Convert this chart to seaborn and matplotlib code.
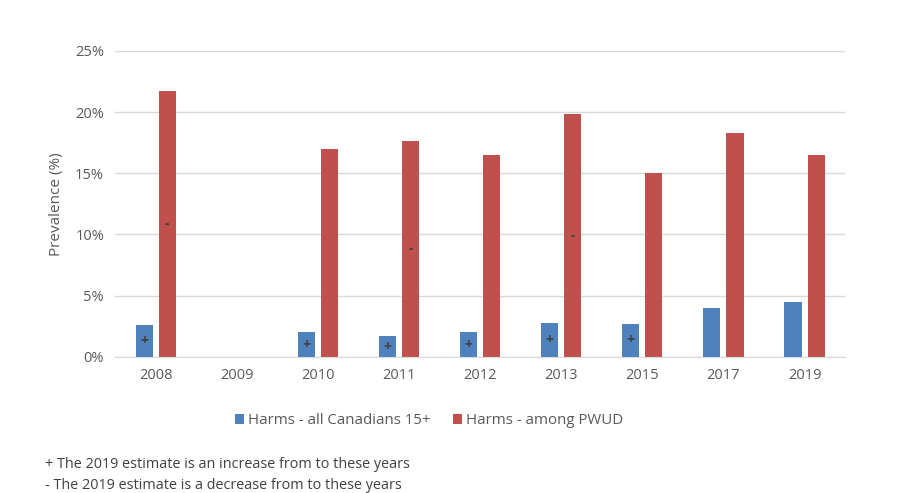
import matplotlib
matplotlib.use("Agg")
import matplotlib.pyplot as plt
import seaborn as sns
import pandas as pd
import numpy as np

# 데이터
years = ["2008", "2009", "2010", "2011", "2012", "2013", "2015", "2017", "2019"]
harms_all = [2.6, np.nan, 2.0, 1.7, 2.0, 2.8, 2.7, 4.0, 4.5]
harms_pwud = [21.7, np.nan, 17.0, 17.6, 16.5, 19.8, 15.0, 18.3, 16.5]
series_names = ["Harms - all Canadians 15+", "Harms - among PWUD"]
plus_years = ["2008", "2010", "2011", "2012", "2013", "2015"]
minus_years = ["2008", "2011", "2013"]

df = pd.DataFrame({
    "Year": years * 2,
    "Value": harms_all + harms_pwud,
    "Series": [series_names[0]] * len(years) + [series_names[1]] * len(years),
})

sns.set_style("white")
plt.rcParams["font.family"] = ["Open Sans", "DejaVu Sans"]

fig = plt.figure(figsize=(9, 4.93), dpi=100)
ax = fig.add_axes([0.128, 0.276, 0.811, 0.621])

sns.barplot(
    data=df, x="Year", y="Value", hue="Series", order=years,
    hue_order=series_names, palette=["#4F81BD", "#C0504D"], saturation=1,
    width=0.57, gap=0.26, errorbar=None, ax=ax,
    edgecolor=None, linewidth=0,
)

ax.set_ylim(0, 25)
ax.set_yticks([0, 5, 10, 15, 20, 25])
ax.set_yticklabels([f"{v}%" for v in [0, 5, 10, 15, 20, 25]])
ax.yaxis.grid(True, color="#D9D9D9", linewidth=1)
ax.set_axisbelow(True)
for s in ["top", "right", "left"]:
    ax.spines[s].set_visible(False)
ax.spines["bottom"].set_color("#D9D9D9")
ax.tick_params(axis="both", length=0, labelsize=10.5, colors="#595959", pad=8)
ax.set_xlabel("")
ax.set_ylabel("Prevalence (%)", fontsize=11, color="#595959", labelpad=8)

# 유의성 표시 (+ / -)
marks = [plus_years, minus_years]
signs = ["+", "-"]
for cont, yrs, sign in zip(ax.containers, marks, signs):
    for bar in cont:
        h = bar.get_height()
        if not np.isfinite(h) or h == 0:
            continue
        cx = bar.get_x() + bar.get_width() / 2
        idx = int(round(cx))
        if years[idx] in yrs:
            ax.text(cx, h / 2, sign, ha="center", va="center",
                    fontsize=10, color="#404040", fontweight="bold")

ax.legend(
    loc="upper center", bbox_to_anchor=(0.43, -0.14), ncol=2, frameon=False,
    fontsize=10.8, handlelength=0.6, handleheight=0.6, columnspacing=1.5,
    handletextpad=0.3, labelcolor="#595959",
)

fig.text(0.05, 0.058, "+ The 2019 estimate is an increase from to these years",
         fontsize=10.4, color="#404040", va="center")
fig.text(0.05, 0.016, "- The 2019 estimate is a decrease from to these years",
         fontsize=10.4, color="#404040", va="center")

fig.savefig("out.png", dpi=100)
